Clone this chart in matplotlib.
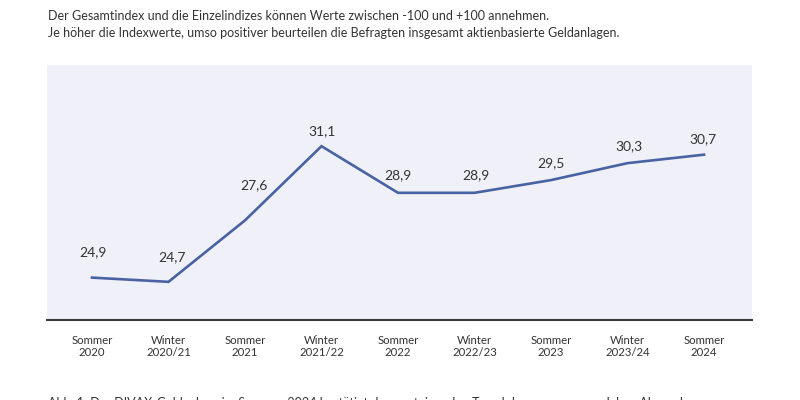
import matplotlib
matplotlib.use('Agg')
import matplotlib.pyplot as plt

plt.rcParams['font.family'] = ['Lato', 'DejaVu Sans']

# data
seasons = ['Sommer\n2020', 'Winter\n2020/21', 'Sommer\n2021', 'Winter\n2021/22',
           'Sommer\n2022', 'Winter\n2022/23', 'Sommer\n2023', 'Winter\n2023/24',
           'Sommer\n2024']
index_values = [24.9, 24.7, 27.6, 31.1, 28.9, 28.9, 29.5, 30.3, 30.7]
value_labels = ['24,9', '24,7', '27,6', '31,1', '28,9', '28,9', '29,5', '30,3', '30,7']

# label offsets above the line (pixels)
label_dx = [1, 3, 9, 1, 0, 1, 0, 1, -1]
label_dy = [25, 25, 35, 15, 18, 18, 17, 17, 16]

line_color = '#4862a3'
panel_color = '#f0f1f8'
text_color = '#333333'

fig = plt.figure(figsize=(8, 4), dpi=100)
ax = fig.add_axes([0.05875, 0.2, 0.88125, 0.6375])
ax.set_facecolor(panel_color)

xs = list(range(len(index_values)))
ax.plot(xs, index_values, color=line_color, linewidth=1.9, solid_joinstyle='miter')

for x, v, lab, dx, dy in zip(xs, index_values, value_labels, label_dx, label_dy):
    ax.annotate(lab, (x, v), xytext=(dx, dy), textcoords='offset pixels',
                ha='center', va='center', fontsize=10, color=text_color)

ax.set_xlim(-0.588, 8.627)
ax.set_ylim(22.9, 34.93)
ax.set_xticks(xs)
ax.set_xticklabels(seasons, fontsize=8.2, color=text_color, linespacing=1.1)
ax.tick_params(axis='x', length=0, pad=11)
ax.set_yticks([])

for side in ['top', 'left', 'right']:
    ax.spines[side].set_visible(False)
ax.spines['bottom'].set_color('#3a3a3a')
ax.spines['bottom'].set_linewidth(1.5)

fig.text(0.06, 1 - 20 / 400, 'Der Gesamtindex und die Einzelindizes können Werte zwischen -100 und +100 annehmen.',
         fontsize=9, color=text_color, va='baseline')
fig.text(0.06, 1 - 37 / 400, 'Je höher die Indexwerte, umso positiver beurteilen die Befragten insgesamt aktienbasierte Geldanlagen.',
         fontsize=9, color=text_color, va='baseline')
fig.text(0.06, 1 - 407 / 400,
         'Abb. 1. Der DIVAX-Geldanlage im Sommer 2024 bestätigt den ansteigenden Trend des vergangenen Jahrs. Abgesehen vom',
         fontsize=9, color=text_color, va='baseline')

fig.savefig('out.png', dpi=100)
